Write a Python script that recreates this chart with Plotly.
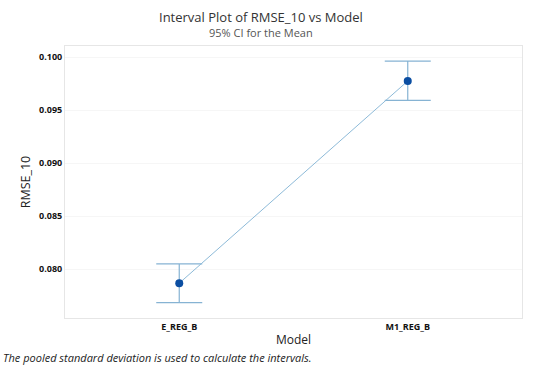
import plotly.graph_objects as go

models = ["E_REG_B", "M1_REG_B"]
means = [0.07868, 0.09774]
ci_upper = [0.08050, 0.09962]
ci_lower = [0.07685, 0.09592]
y_ticks = [0.080, 0.085, 0.090, 0.095, 0.100]

err_plus = [u - m for u, m in zip(ci_upper, means)]
err_minus = [m - l for m, l in zip(means, ci_lower)]

fig = go.Figure()
fig.add_trace(go.Scatter(
    x=models, y=means, mode="lines+markers",
    line=dict(color="#8dbad8", width=1),
    marker=dict(color="#0b4ea2", size=8),
    error_y=dict(type="data", symmetric=False, array=err_plus, arrayminus=err_minus,
                 color="#86b3d3", thickness=1.2, width=23),
    showlegend=False,
))

font = "Open Sans"
PL, PR, PT, PB = 65, 28, 46, 54
ph = 372 - PT - PB
pw = 550 - PL - PR
fig.update_layout(
    width=550, height=372,
    margin=dict(l=PL, r=PR, t=PT, b=PB),
    paper_bgcolor="white", plot_bgcolor="white",
    font=dict(family=font, color="#222"),
    xaxis=dict(
        type="category", range=[-0.5, 1.5],
        showgrid=False, zeroline=False,
        showline=True, mirror=True, linecolor="#e6e6e6", linewidth=1,
        ticks="", tickfont=dict(size=9, color="#111", family=font, weight="bold"),
        title=dict(text="Model", font=dict(size=12, color="#222"), standoff=3),
    ),
    yaxis=dict(
        range=[0.07540, 0.10104],
        tickvals=y_ticks, ticktext=[f"{v:.3f}" for v in y_ticks],
        showgrid=True, gridcolor="#f6f6f6", zeroline=False,
        showline=True, mirror=True, linecolor="#e6e6e6", linewidth=1,
        ticks="", tickfont=dict(size=9, color="#111", family=font, weight="bold"),
        title=dict(text="RMSE_10", font=dict(size=12.5, color="#222"), standoff=5),
    ),
)
fig.add_annotation(
    text="Interval Plot of RMSE_10 vs Model",
    xref="paper", yref="paper", x=(261 - PL) / pw, y=(372 - PB - 17) / ph,
    xanchor="center", yanchor="middle", showarrow=False,
    font=dict(size=13, color="#333", family=font),
)
fig.add_annotation(
    text="95% CI for the Mean",
    xref="paper", yref="paper", x=(261 - PL) / pw, y=(372 - PB - 32.5) / ph,
    xanchor="center", yanchor="middle", showarrow=False,
    font=dict(size=11, color="#555", family=font),
)
fig.add_annotation(
    text="<i>The pooled standard deviation is used to calculate the intervals.</i>",
    xref="paper", yref="paper", x=(1 - PL) / pw, y=(372 - PB - 357) / ph,
    xanchor="left", yanchor="middle", showarrow=False,
    font=dict(size=11, color="#222", family=font),
)
fig.write_html("out.html", config={"displayModeBar": False},
               post_script="document.body.style.margin='0';document.body.style.padding='0';")
